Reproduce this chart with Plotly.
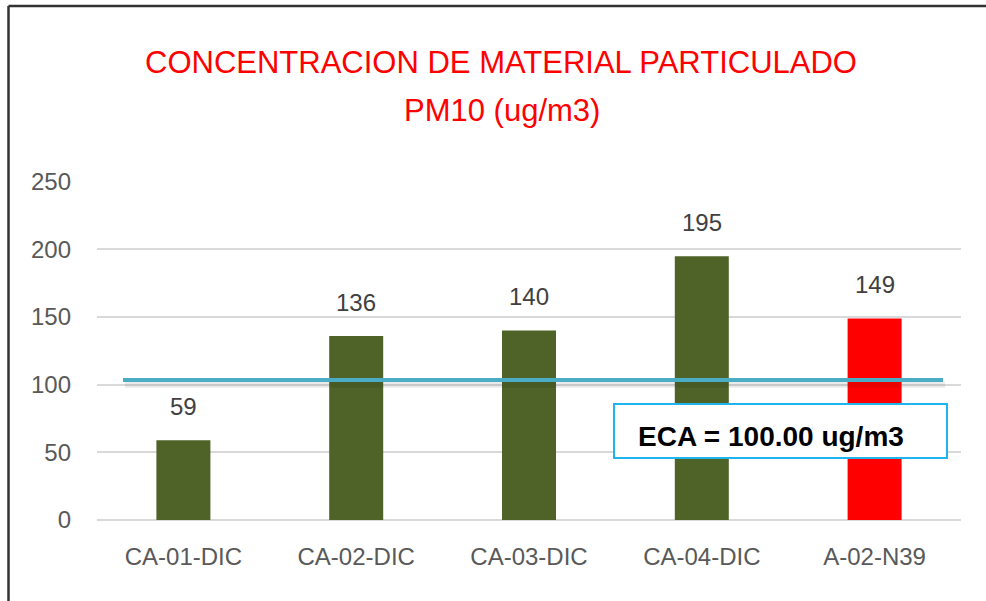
import plotly.graph_objects as go

# ---------------------------------------------------------------------------
# Datos
# ---------------------------------------------------------------------------
estaciones = ['CA-01-DIC', 'CA-02-DIC', 'CA-03-DIC', 'CA-04-DIC', 'A-02-N39']
pm10 = [59, 136, 140, 195, 149]
colores = ['#4F6228', '#4F6228', '#4F6228', '#4F6228', '#FF0000']
y_ticks = [0, 50, 100, 150, 200, 250]

eca_valor = 100.00      # valor normativo (texto del recuadro)
eca_linea = 103.5       # posicion dibujada de la linea en el grafico original

# ---------------------------------------------------------------------------
# Geometria: pixeles de la imagen de 986x601
# ---------------------------------------------------------------------------
W, H = 986, 601
L, R, T, B = 97, 961, 181, 520


def px_x(p):
    return (p - L) / (R - L)


def px_y(p):
    return (B - p) / (B - T)


FONT = 'Liberation Sans'

fig = go.Figure()

fig.add_trace(go.Bar(
    x=estaciones,
    y=pm10,
    marker_color=colores,
    marker_line_width=0,
    showlegend=False,
    hovertemplate='<b>%{x}</b><br>PM10: %{y}<extra></extra>'
))

# etiquetas de datos sobre cada barra
for est, val in zip(estaciones, pm10):
    fig.add_annotation(
        x=est, y=val, xref='x', yref='y',
        text=str(val), showarrow=False,
        yanchor='middle', yshift=34,
        font=dict(family=FONT, size=24, color='#404040')
    )

# --- linea ECA (con sombra) ---
fig.add_shape(type='line', xref='paper', yref='y',
              x0=px_x(125), x1=px_x(945), y0=eca_linea - 3.5, y1=eca_linea - 3.5,
              line=dict(color='rgba(0,0,0,0.08)', width=6), layer='above')
fig.add_shape(type='line', xref='paper', yref='y',
              x0=px_x(123), x1=px_x(943), y0=eca_linea, y1=eca_linea,
              line=dict(color='#4BACC6', width=4), layer='above')

# --- recuadro ECA ---
fig.add_shape(type='rect', xref='paper', yref='paper',
              x0=px_x(614), x1=px_x(947), y0=px_y(458), y1=px_y(404),
              line=dict(color='#1FB4EE', width=2), fillcolor='white', layer='above')
fig.add_annotation(
    x=px_x(636), y=px_y(436), xref='paper', yref='paper',
    xanchor='left', yanchor='middle', showarrow=False,
    text=f'<b>ECA = {eca_valor:.2f} ug/m3</b>',
    font=dict(family=FONT, size=28, color='#000000')
)

# --- titulo ---
fig.add_annotation(
    x=px_x(501), y=px_y(63), xref='paper', yref='paper',
    xanchor='center', yanchor='middle', showarrow=False,
    text='CONCENTRACION DE MATERIAL PARTICULADO',
    font=dict(family=FONT, size=31, color='#FF0000')
)
fig.add_annotation(
    x=px_x(502), y=px_y(111), xref='paper', yref='paper',
    xanchor='center', yanchor='middle', showarrow=False,
    text='PM10 (ug/m3)',
    font=dict(family=FONT, size=31, color='#FF0000')
)

# --- marco exterior (lado izquierdo y superior) ---
fig.add_shape(type='line', xref='paper', yref='paper',
              x0=px_x(8.5), x1=px_x(8.5), y0=px_y(H + 5), y1=px_y(6),
              line=dict(color='#333333', width=2.5))
fig.add_shape(type='line', xref='paper', yref='paper',
              x0=px_x(8.5), x1=px_x(W + 5), y0=px_y(6), y1=px_y(6),
              line=dict(color='#333333', width=2.5))

# ---------------------------------------------------------------------------
# Layout
# ---------------------------------------------------------------------------
fig.update_layout(
    width=W, height=H,
    margin=dict(l=L, r=W - R, t=T, b=H - B, pad=0),
    paper_bgcolor='white',
    plot_bgcolor='white',
    bargap=0.6875,
    font=dict(family=FONT),
)

fig.update_yaxes(
    range=[0, 250.6],
    tickvals=y_ticks,
    showgrid=True, gridcolor='#D9D9D9', gridwidth=1.5,
    zeroline=True, zerolinecolor='#D9D9D9', zerolinewidth=1.5,
    showline=False,
    ticks='', ticklabelstandoff=25,
    tickfont=dict(family=FONT, size=24, color='#595959'),
)
fig.update_xaxes(
    showgrid=False, showline=False, ticks='',
    ticklabelstandoff=20,
    tickfont=dict(family=FONT, size=24, color='#595959'),
)

# quitar el margen por defecto del body para que el grafico quede en (0, 0)
fig.write_html("out.html", config={'displayModeBar': False},
               post_script="document.body.style.margin = '0';")
